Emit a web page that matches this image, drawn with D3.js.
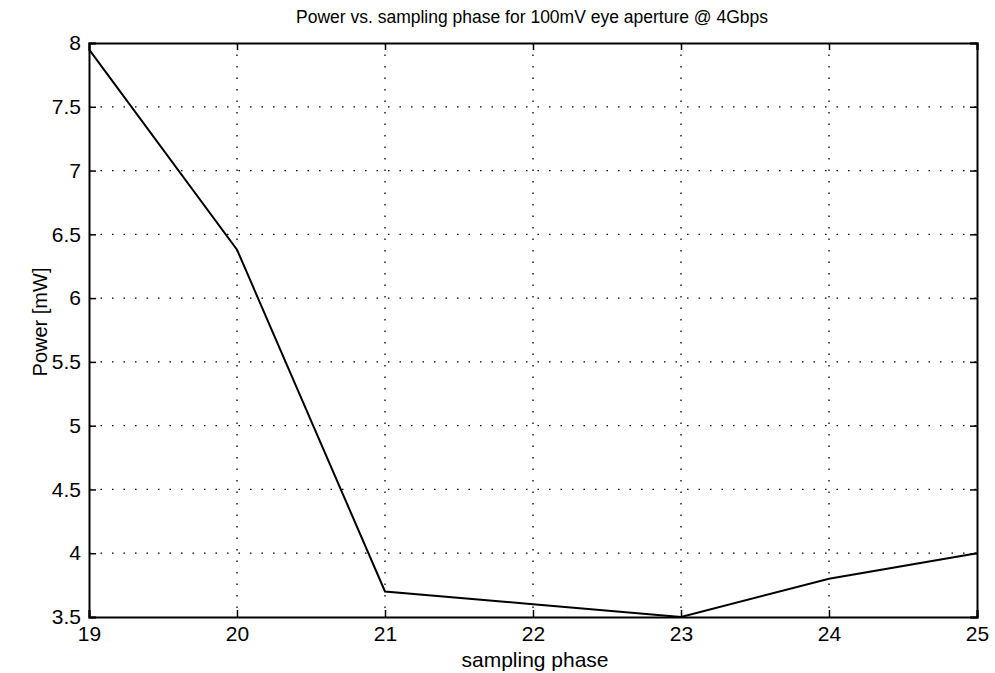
<!DOCTYPE html>
<html>
<head>
<meta charset="utf-8">
<script src="https://cdn.jsdelivr.net/npm/d3@7"></script>
<style>
  body { margin: 0; background: #fff; }
  text { font-family: "Liberation Sans", Arial, sans-serif; fill: #000; }
  .grid line { stroke: #000; stroke-width: 1.3; stroke-dasharray: 1.5 10; }
</style>
</head>
<body>
<div id="chart"></div>
<script>
// data
var phases = [19, 20, 21, 22, 23, 24, 25];
var power = [7.95, 6.38, 3.7, 3.6, 3.5, 3.8, 4.0];
var xTicks = [19, 20, 21, 22, 23, 24, 25];
var yTicks = [3.5, 4, 4.5, 5, 5.5, 6, 6.5, 7, 7.5, 8];

var margin = {top: 43, right: 18, bottom: 56, left: 89},
    width = 995 - margin.left - margin.right,
    height = 673 - margin.top - margin.bottom;

var x = d3.scaleLinear().domain([19, 25]).range([0, width]);
var y = d3.scaleLinear().domain([3.5, 8]).range([height, 0]);

var svg = d3.select("#chart").append("svg")
    .attr("width", 995)
    .attr("height", 673)
  .append("g")
    .attr("transform", "translate(" + margin.left + "," + margin.top + ")");

// dotted grid
var grid = svg.append("g").attr("class", "grid");
grid.selectAll(".gx").data(xTicks.slice(1, -1)).enter().append("line")
    .attr("x1", function(d) { return x(d); }).attr("x2", function(d) { return x(d); })
    .attr("y1", 0).attr("y2", height);
grid.selectAll(".gy").data(yTicks.slice(1, -1)).enter().append("line")
    .attr("y1", function(d) { return y(d); }).attr("y2", function(d) { return y(d); })
    .attr("x1", 0).attr("x2", width);

// axes
var xAxis = svg.append("g")
    .attr("transform", "translate(0," + height + ")")
    .call(d3.axisBottom(x).tickValues(xTicks).tickSize(-7).tickPadding(9).tickFormat(d3.format("d")));
var xAxisTop = svg.append("g")
    .call(d3.axisTop(x).tickValues(xTicks).tickSize(-7).tickFormat(""));
var yAxis = svg.append("g")
    .call(d3.axisLeft(y).tickValues(yTicks).tickSize(-7).tickPadding(8).tickFormat(d3.format("")));
var yAxisRight = svg.append("g")
    .attr("transform", "translate(" + width + ",0)")
    .call(d3.axisRight(y).tickValues(yTicks).tickSize(-7).tickFormat(""));

[xAxis, xAxisTop, yAxis, yAxisRight].forEach(function(a) {
  a.attr("font-size", null).attr("font-family", null);
  a.select(".domain").attr("stroke", "#000").attr("stroke-width", 2);
  a.selectAll(".tick line").attr("stroke", "#000").attr("stroke-width", 1.5);
  a.selectAll("text").style("font-size", "21px");
});

// the line
var valueline = d3.line()
    .x(function(d, i) { return x(phases[i]); })
    .y(function(d) { return y(d); });

svg.append("path")
    .datum(power)
    .attr("fill", "none")
    .attr("stroke", "#000")
    .attr("stroke-width", 2)
    .attr("d", valueline);

// title
svg.append("text")
    .attr("x", width / 2 - 1)
    .attr("y", -20)
    .style("text-anchor", "middle")
    .style("font-size", "17.5px")
    .text("Power vs. sampling phase for 100mV eye aperture @ 4Gbps");

// x label
svg.append("text")
    .attr("x", width / 2 + 2)
    .attr("y", height + 50)
    .style("text-anchor", "middle")
    .style("font-size", "21px")
    .text("sampling phase");

// y label
svg.append("text")
    .attr("transform", "rotate(-90)")
    .attr("x", -height / 2 + 8)
    .attr("y", -42)
    .style("text-anchor", "middle")
    .style("font-size", "20px")
    .text("Power [mW]");
</script>
</body>
</html>
